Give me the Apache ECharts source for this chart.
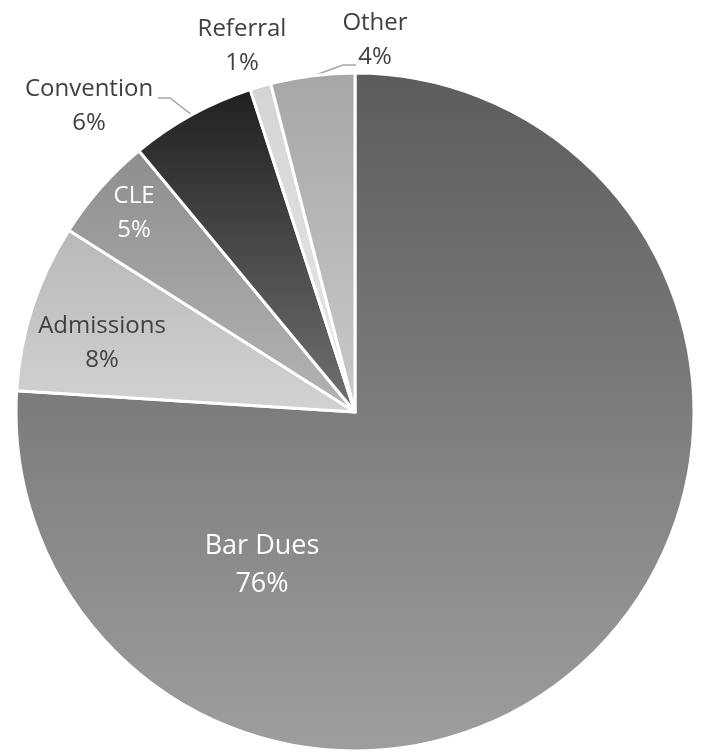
<!DOCTYPE html>
<html>
<head>
<meta charset="utf-8">
<script src="https://cdn.jsdelivr.net/npm/echarts@6/dist/echarts.min.js"></script>
<style>
  html, body { margin: 0; padding: 0; background: #fff; }
  #chart { width: 703px; height: 752px; }
</style>
</head>
<body>
<div id="chart"></div>
<script>
"use strict";

/* data */
var categories = ['Bar Dues', 'Admissions', 'CLE', 'Convention', 'Referral', 'Other'];
var shares = [76, 8, 5, 6, 1, 4];

/* vertical gradient per slice: [top, bottom] */
var sliceShades = [
	['#5c5c5c', '#9e9e9e'],
	['#b8b8b8', '#d2d2d2'],
	['#8e8e8e', '#b4b4b4'],
	['#202020', '#727272'],
	['#d4d4d4', '#e8e8e8'],
	['#a6a6a6', '#cacaca']
];
var labelColors = ['#ffffff', '#404040', '#ffffff', '#404040', '#404040', '#404040'];
var labelSizes = [27, 24, 24, 24, 24, 24];
var labelInside = [true, true, true, false, false, false];
var labelLineShown = [false, false, false, true, false, true];

/* where each label sits, and leader lines */
var labelSpots = [
	{ x: 262, y: 565 },
	{ x: 102, y: 343 },
	{ x: 134, y: 213 },
	{ x: 89, y: 106, line: [[192, 115], [170, 98], [158, 98]] },
	{ x: 242, y: 46 },
	{ x: 375, y: 40, line: [[313, 76], [343, 65], [356, 65]] }
];

var pieData = categories.map(function (name, i) {
	return {
		name: name,
		value: shares[i],
		itemStyle: {
			color: {
				type: 'linear', x: 0, y: 0, x2: 0, y2: 1,
				colorStops: [
					{ offset: 0, color: sliceShades[i][0] },
					{ offset: 1, color: sliceShades[i][1] }
				]
			}
		},
		label: {
			position: labelInside[i] ? 'inside' : 'outside',
			color: labelColors[i],
			fontSize: labelSizes[i],
			lineHeight: Math.round(labelSizes[i] * 1.4)
		},
		labelLine: { show: labelLineShown[i] }
	};
});

var chart = echarts.init(document.getElementById('chart'));
chart.setOption({
	animation: false,
	backgroundColor: '#ffffff',
	series: [{
		type: 'pie',
		center: [355, 412],
		radius: 339,
		startAngle: 90,
		clockwise: true,
		avoidLabelOverlap: false,
		data: pieData,
		itemStyle: {
			borderColor: '#ffffff',
			borderWidth: 3
		},
		label: {
			formatter: '{b}\n{d}%',
			fontFamily: "'Open Sans', sans-serif"
		},
		labelLine: {
			lineStyle: { color: '#a6a6a6', width: 1.5 }
		},
		labelLayout: function (params) {
			var spot = labelSpots[params.dataIndex];
			var res = {
				x: spot.x,
				y: spot.y,
				align: 'center',
				verticalAlign: 'middle'
			};
			if (spot.line) {
				res.labelLinePoints = spot.line;
			}
			return res;
		}
	}]
});
</script>
</body>
</html>
